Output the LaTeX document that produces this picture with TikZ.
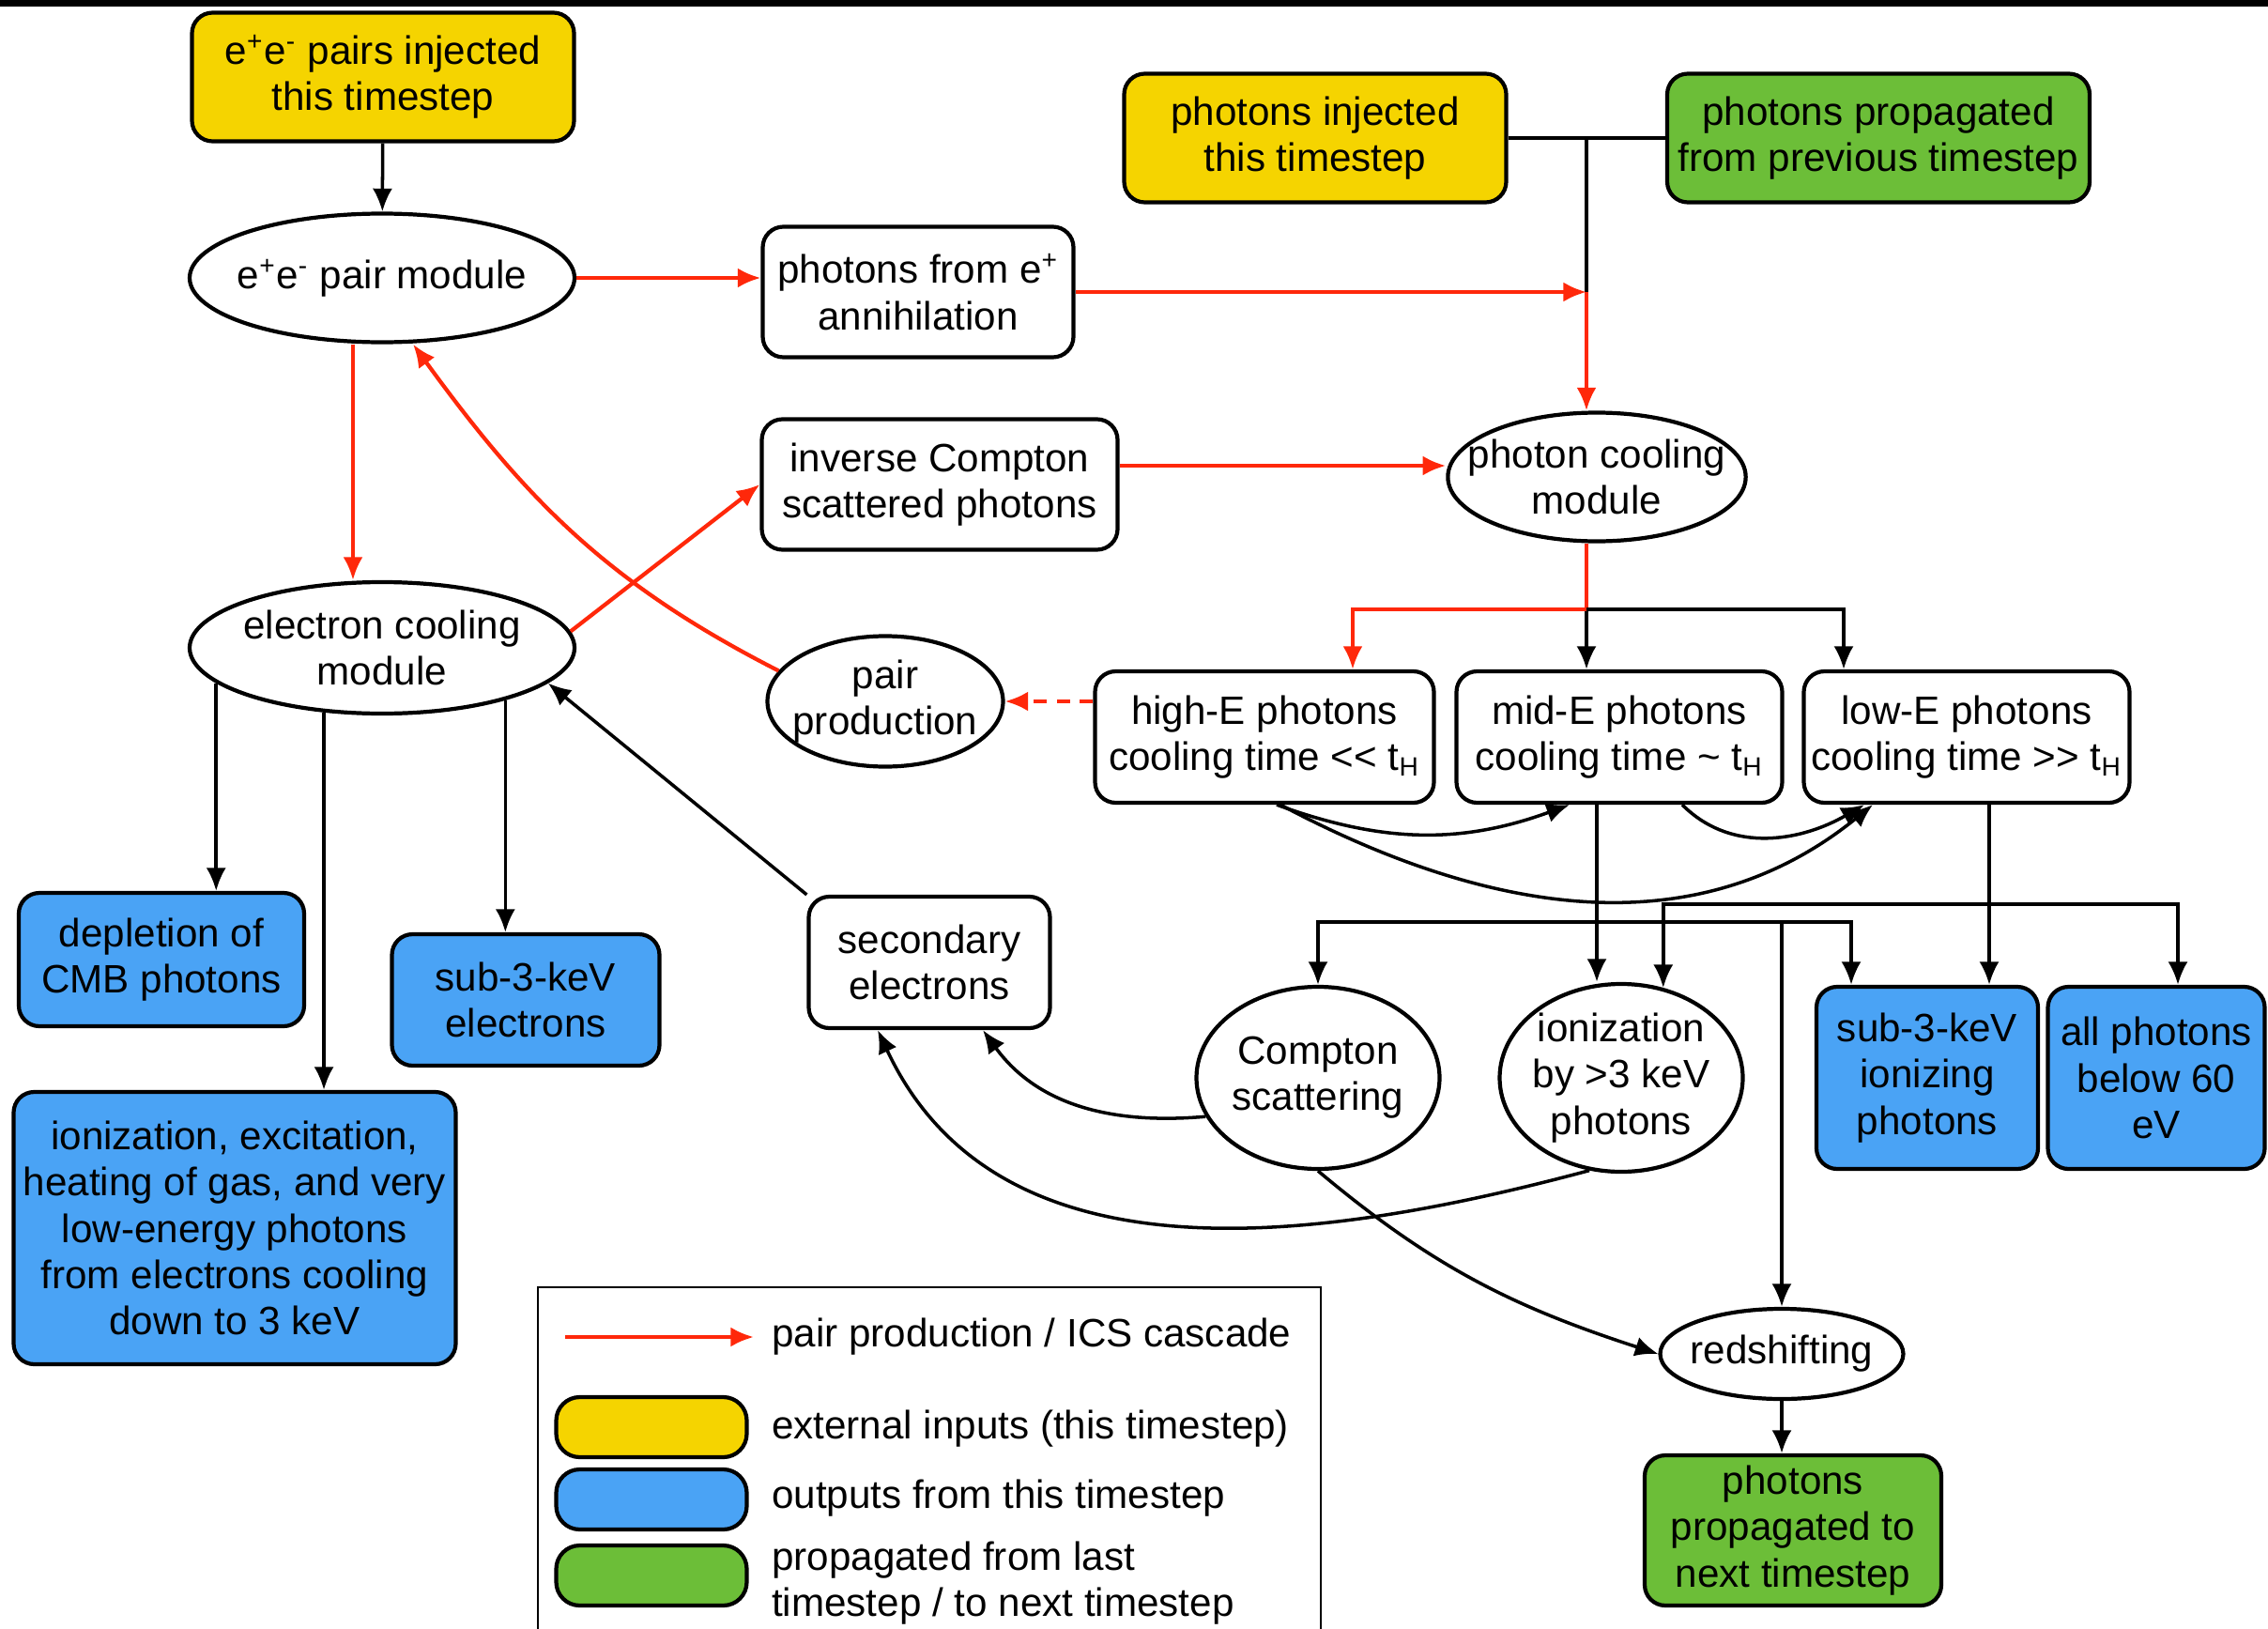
\documentclass[tikz,border=0pt]{standalone}
\usepackage{fontspec}
\setmainfont{Liberation Sans}
\usetikzlibrary{arrows.meta,shapes.geometric}
\definecolor{inyellow}{RGB}{245,212,0}
\definecolor{outblue}{RGB}{74,163,245}
\definecolor{propgreen}{RGB}{108,190,56}
\definecolor{cascred}{RGB}{255,40,10}
\newcommand{\tH}{t\textsubscript{H}}
\newcommand{\epem}{e\textsuperscript{+}e\textsuperscript{-}}
\begin{document}
\begin{tikzpicture}[every node/.style={font=\fontsize{12}{14}\selectfont, align=center, inner sep=1pt},
    rbox/.style={draw, line width=1.2pt, rounded corners=2.2mm, fill=white},
    inbox/.style={rbox, fill=inyellow},
    outbox/.style={rbox, fill=outblue},
    propbox/.style={rbox, fill=propgreen},
    modl/.style={ellipse, draw, line width=1.2pt, fill=white, inner xsep=-0.25cm, inner ysep=0pt},
    ln/.style={line width=1pt},
    arr/.style={ln, -{Latex[length=7pt,width=6pt]}},
    redln/.style={draw=cascred, line width=1.2pt},
    redarr/.style={redln, -{Latex[length=7pt,width=6pt]}},
    swatch/.style={minimum width=2.03cm, minimum height=0.64cm, rounded corners=2.5mm}]
    \useasboundingbox (0,0) rectangle (24.16,-17.35);
    \fill (0,0) rectangle (24.16,-0.07);

    % inputs and modules
    \node[inbox, minimum width=4.07cm, minimum height=1.37cm] (injpairs) at (4.08,-0.82) {\epem{} pairs injected\\this timestep};
    \node[modl, minimum width=4.10cm, minimum height=1.37cm] (pairmod) at (4.07,-2.96) {\epem{} pair module};
    \node[rbox, minimum width=3.31cm, minimum height=1.39cm] (annih) at (9.78,-3.11) {photons from e\textsuperscript{+}\\annihilation};
    \node[inbox, minimum width=4.07cm, minimum height=1.37cm] (injphot) at (14.01,-1.47) {photons injected\\this timestep};
    \node[propbox, minimum width=4.50cm, minimum height=1.37cm] (propprev) at (20.01,-1.47) {photons propagated\\from previous timestep};
    \node[rbox, minimum width=3.79cm, minimum height=1.39cm] (ics) at (10.01,-5.16) {inverse Compton\\scattered photons};
    \node[modl, minimum width=3.11cm, minimum height=1.37cm] (photcool) at (17.01,-5.08) {photon cooling\\module};
    \node[modl, minimum width=4.10cm, minimum height=1.40cm] (elcool) at (4.07,-6.90) {electron cooling\\module};
    \node[modl, minimum width=2.51cm, minimum height=1.39cm] (pairprod) at (9.43,-7.47) {pair\\production};
    \node[rbox, minimum width=3.61cm, minimum height=1.40cm] (highE) at (13.47,-7.85) {high-E photons\\cooling time <{}< \tH};
    \node[rbox, minimum width=3.47cm, minimum height=1.40cm] (midE) at (17.25,-7.85) {mid-E photons\\cooling time \textasciitilde{} \tH};
    \node[rbox, minimum width=3.47cm, minimum height=1.40cm] (lowE) at (20.95,-7.85) {low-E photons\\cooling time >{}> \tH};

    % outputs
    \node[outbox, minimum width=3.04cm, minimum height=1.42cm] (depl) at (1.72,-10.22) {depletion of\\CMB photons};
    \node[outbox, minimum width=2.85cm, minimum height=1.40cm] (subel) at (5.60,-10.65) {sub-3-keV\\electrons};
    \node[outbox, minimum width=4.71cm, minimum height=2.90cm] (ionex) at (2.50,-13.08) {ionization, excitation,\\heating of gas, and very\\low-energy photons\\from electrons cooling\\down to 3 keV};
    \node[rbox, minimum width=2.57cm, minimum height=1.40cm] (secel) at (9.90,-10.25) {secondary\\electrons};
    \node[modl, minimum width=2.59cm, minimum height=1.94cm] (compton) at (14.04,-11.48) {Compton\\scattering};
    \node[modl, minimum width=2.59cm, minimum height=2.00cm] (ioniz) at (17.27,-11.48) {ionization\\by >3 keV\\photons};
    \node[outbox, minimum width=2.36cm, minimum height=1.94cm] (subion) at (20.53,-11.48) {sub-3-keV\\ionizing\\photons};
    \node[outbox, minimum width=2.31cm, minimum height=1.94cm] (allph) at (22.97,-11.48) {all photons\\below 60\\eV};
    \node[modl, minimum width=2.59cm, minimum height=0.96cm] (redsh) at (18.98,-14.42) {redshifting};
    \node[propbox, minimum width=3.16cm, minimum height=1.60cm] (propnext) at (19.10,-16.30) {photons\\propagated to\\next timestep};

    % junctions
    \coordinate (jin) at (16.90,-3.11);
    \coordinate (jout) at (16.90,-6.49);
    \coordinate (busA) at (17.01,-9.82);
    \coordinate (busB) at (21.19,-9.63);

    % photon side
    \draw[ln] (injphot.east) -- (propprev.west);
    \draw[ln] (injphot.east -| jin) -- (jin);
    \draw[redarr] (annih.east) -- (jin);
    \draw[redarr] (jin) -- (jin |- photcool.north);
    \draw[redarr] (ics.east |- 0,-4.96) -- (photcool.west |- 0,-4.96);
    \draw[redln] (photcool.south -| jout) -- (jout);
    \draw[arr] (jout) -- (jout |- midE.north);
    \draw[arr] (jout) -| ([xshift=-1.31cm]lowE.north);
    \draw[redarr] (jout) -| ([xshift=0.94cm]highE.north);
    \draw[redarr, dash pattern=on 4pt off 3pt] (highE.west |- pairprod.east) -- (pairprod.east);
    \draw[arr] ([xshift=1.3mm]highE.south) to[out=-20, in=-160] ([xshift=-5.3mm]midE.south);
    \draw[arr] ([xshift=1.7mm]highE.south) to[out=-28, in=-141] ([xshift=-1.0cm]lowE.south);
    \draw[arr] ([xshift=6.7mm]midE.south) to[out=-45, in=-150] ([xshift=-1.09cm]lowE.south);

    % electron side
    \draw[arr] (injpairs) -- (pairmod);
    \draw[redarr] (pairmod.east) -- (pairmod.east -| annih.west);
    \draw[redarr] ([xshift=-3.1mm]pairmod.south) -- ([xshift=-3.1mm]elcool.north);
    \draw[redarr] (pairprod.164) to[out=153, in=-54] ([xshift=3.3mm]pairmod.south);
    \draw[redarr] (elcool.5) -- (ics.west);
    \draw[arr] (elcool.192) -- (elcool.192 |- depl.north);
    \draw[arr] (elcool.228) -- (elcool.228 |- ionex.north);
    \draw[arr] (elcool.337) -- (elcool.337 |- subel.north);
    \draw[arr] (secel.north west) -- (elcool.-12);
    \draw[arr] (compton.199) to[out=185, in=-54] ([xshift=5.7mm]secel.south);
    \draw[arr] (ioniz.251) to[out=195, in=-65] ([xshift=-5.5mm]secel.south);

    % photon fates
    \draw[arr] (midE.south -| busA) -- (busA |- ioniz.north);
    \draw[arr] (busA) -| (compton.north);
    \draw[arr] (busA) -| ([xshift=-8.1mm]subion.north);
    \draw[arr] (redsh.north |- busA) -- (redsh.north);
    \draw[arr] (lowE.south -| busB) -- (busB |- subion.north);
    \draw[arr] (busB) -| (ioniz.65);
    \draw[arr] (busB) -| ([xshift=2.3mm]allph.north);
    \draw[arr] (compton.south) to[out=-40, in=162] (redsh.west);
    \draw[arr] (redsh.south) -- (redsh.south |- propnext.north);

    % legend
    \draw[line width=0.6pt] (5.73,-17.35) |- (14.07,-13.71) -- (14.07,-17.35);
    \coordinate (lga) at (6.02,-14.24);
    \coordinate (lgb) at (8.03,-14.24);
    \draw[redarr] (lga) -- (lgb);
    \node[anchor=west] (lgcasc) at (8.18,-14.24) {pair production / ICS cascade};
    \node[inbox, swatch] (swy) at (6.94,-15.20) {};
    \node[anchor=west] (lgin) at (8.18,-15.22) {external inputs (this timestep)};
    \node[outbox, swatch] (swb) at (6.94,-15.97) {};
    \node[anchor=west] (lgout) at (8.18,-15.96) {outputs from this timestep};
    \node[propbox, swatch] (swg) at (6.94,-16.78) {};
    \node[anchor=west, align=left] (lgprop) at (8.18,-16.86) {propagated from last\\timestep / to next timestep};
\end{tikzpicture}
\end{document}
